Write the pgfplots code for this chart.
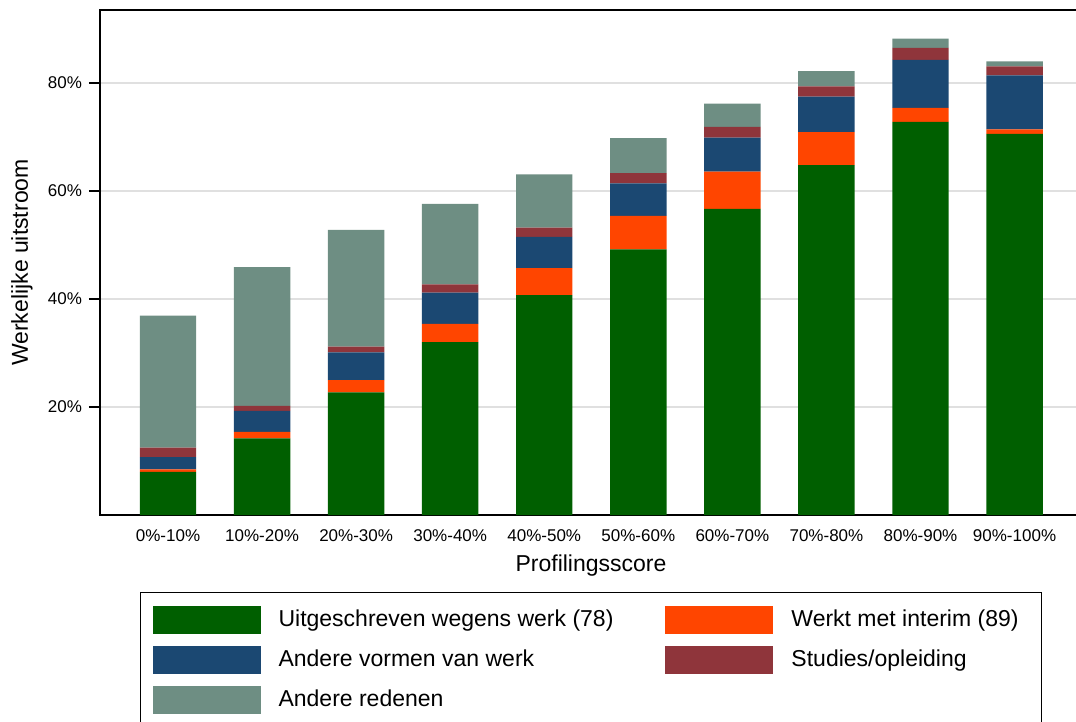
\documentclass[border=0pt]{standalone}
\usepackage{pgfplots}
\pgfplotsset{compat=1.18}
\usepackage{fontspec}
\setmainfont{Liberation Sans}

\definecolor{cwork}{HTML}{005F00}
\definecolor{cinterim}{HTML}{FF4500}
\definecolor{cother}{HTML}{1B4872}
\definecolor{cstudy}{HTML}{8F353B}
\definecolor{creason}{HTML}{6E8E83}
\definecolor{cgrid}{HTML}{E0E0E0}

\begin{document}
\begin{tikzpicture}
% picture frame: the reference is cropped on the right and at the bottom
\useasboundingbox (-50pt,-103.5pt) rectangle (488pt,257.5pt);
\clip (-50pt,-103.5pt) rectangle (488pt,257.5pt);
\begin{axis}[
  at={(0,0)}, anchor=south west,
  scale only axis,
  width=491pt, height=252.5pt,
  ybar stacked,
  bar width=0.6,
  xmin=-0.723, xmax=9.717,
  ymin=0, ymax=93.52,
  xtick={0,...,9},
  xticklabels={0\%-10\%,10\%-20\%,20\%-30\%,30\%-40\%,40\%-50\%,50\%-60\%,60\%-70\%,70\%-80\%,80\%-90\%,90\%-100\%},
  ytick={20,40,60,80},
  yticklabels={20\%,40\%,60\%,80\%},
  x tick style={draw=none},
  y tick style={black, line width=0.6pt},
  tick align=outside, tick pos=left,
  major tick length=5.5pt,
  ticklabel style={font=\fontsize{8.5}{10}\selectfont},
  xticklabel style={yshift=1.5pt},
  ymajorgrids,
  grid style={cgrid, line width=1.2pt},
  axis line style={black, line width=1pt},
  xlabel={Profilingsscore},
  ylabel={Werkelijke uitstroom},
  label style={font=\fontsize{11.5}{13}\selectfont},
  xlabel style={at={(axis description cs:0.5,-0.1)}, anchor=center},
  ylabel style={at={(axis description cs:-0.0794,0.5)}, anchor=center, rotate=0},
  legend columns=2,
  legend cell align=left,
  legend style={at={(axis description cs:0.0407,-0.1525)}, anchor=north west,
    draw=black, line width=0.6pt, fill=white,
    inner xsep=6pt, inner ysep=6.5pt, row sep=6pt,
    nodes={inner sep=2pt},
    font=\fontsize{11.5}{13}\selectfont,
    /tikz/every odd column/.append style={column sep=7pt},
    /tikz/every even column/.append style={column sep=24pt}},
  legend image code/.code={\fill[#1, draw=none] (0pt,-7pt) rectangle (54pt,7pt);},
]
\addplot[fill=cwork, draw=none] coordinates {
  (0,8.0) (1,14.2) (2,22.7) (3,32.0) (4,40.7) (5,49.2) (6,56.7) (7,64.8) (8,72.8) (9,70.6)};
\addlegendentry{Uitgeschreven wegens werk (78)}
\addplot[fill=cinterim, draw=none] coordinates {
  (0,0.45) (1,1.2) (2,2.3) (3,3.4) (4,5.0) (5,6.2) (6,6.9) (7,6.1) (8,2.6) (9,0.8)};
\addlegendentry{Werkt met interim (89)\hspace{3.5pt}\null}
\addplot[fill=cother, draw=none] coordinates {
  (0,2.25) (1,3.9) (2,5.1) (3,5.8) (4,5.8) (5,6.0) (6,6.3) (7,6.6) (8,8.9) (9,10.0)};
\addlegendentry{Andere vormen van werk}
\addplot[fill=cstudy, draw=none] coordinates {
  (0,1.8) (1,0.9) (2,1.1) (3,1.5) (4,1.7) (5,1.9) (6,2.0) (7,1.9) (8,2.2) (9,1.7)};
\addlegendentry{Studies/opleiding}
\addplot[fill=creason, draw=none] coordinates {
  (0,24.4) (1,25.7) (2,21.6) (3,14.9) (4,9.9) (5,6.5) (6,4.3) (7,2.8) (8,1.7) (9,0.9)};
\addlegendentry{Andere redenen}
\end{axis}
\end{tikzpicture}
\end{document}
